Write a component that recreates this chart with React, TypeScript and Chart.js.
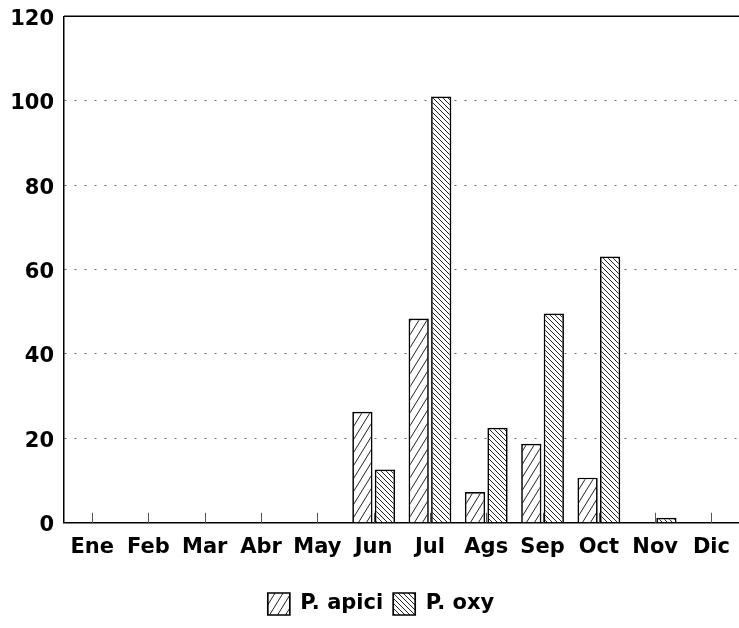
import React, { useEffect, useRef } from 'react';
import { Chart, registerables } from 'chart.js';

Chart.register(...registerables);

const months = ['Ene', 'Feb', 'Mar', 'Abr', 'May', 'Jun', 'Jul', 'Ags', 'Sep', 'Oct', 'Nov', 'Dic'];
const apiciValues = [null, null, null, null, null, 26.3, 48.4, 7.3, 18.7, 10.7, null, null];
const oxyValues = [null, null, null, null, null, 12.6, 101, 22.5, 49.6, 63.1, 1.2, null];
const seriesNames = ['P. apici', 'P. oxy'];
const yMin = 0;
const yMax = 120;
const yStep = 20;

function makeHatch(w: number, h: number, forward: boolean): CanvasPattern | string {
  const c = document.createElement('canvas');
  c.width = w;
  c.height = h;
  const ctx = c.getContext('2d');
  if (!ctx) return '#fff';
  ctx.fillStyle = '#fff';
  ctx.fillRect(0, 0, w, h);
  ctx.strokeStyle = '#222';
  ctx.lineWidth = 1;
  ctx.beginPath();
  if (forward) {
    ctx.moveTo(0, h);
    ctx.lineTo(w, 0);
    ctx.moveTo(-w, h);
    ctx.lineTo(0, 0);
    ctx.moveTo(w, h);
    ctx.lineTo(2 * w, 0);
  } else {
    ctx.moveTo(0, 0);
    ctx.lineTo(w, h);
    ctx.moveTo(-w, 0);
    ctx.lineTo(0, h);
    ctx.moveTo(w, 0);
    ctx.lineTo(2 * w, h);
  }
  ctx.stroke();
  return ctx.createPattern(c, 'repeat') as CanvasPattern;
}

const font = { family: '"DejaVu Sans", sans-serif', size: 21, weight: 'bold' as const };
const yFont = { family: '"DejaVu Sans", sans-serif', size: 21, weight: 'bold' as const, lineHeight: 0.6 };

const framePlugin = {
  id: 'frame',
  beforeDraw(chart: any) {
    const lg = chart.legend;
    if (lg) {
      lg.left += 10;
      lg.right += 10;
    }
  },
  beforeDatasetsDraw(chart: any) {
    const { ctx, chartArea, scales } = chart;
    const x = scales.x;
    ctx.save();
    ctx.strokeStyle = '#555';
    ctx.lineWidth = 1;
    ctx.beginPath();
    for (let i = 0; i < months.length; i++) {
      const px = Math.round(x.getPixelForValue(i)) + 0.5;
      ctx.moveTo(px, chartArea.bottom);
      ctx.lineTo(px, chartArea.bottom - 10);
    }
    ctx.stroke();
    ctx.restore();
  },
  afterDraw(chart: any) {
    const { ctx, chartArea } = chart;
    ctx.save();
    ctx.strokeStyle = '#000';
    ctx.lineWidth = 1.5;
    ctx.beginPath();
    ctx.moveTo(chartArea.left, chartArea.top);
    ctx.lineTo(chartArea.right + 5, chartArea.top);
    ctx.stroke();
    ctx.restore();
  },
};

export default function App() {
  const ref = useRef<HTMLCanvasElement | null>(null);

  useEffect(() => {
    if (!ref.current) return;
    const apiciFill = makeHatch(8, 13, true);
    const oxyFill = makeHatch(5, 5, false);
    const chart = new Chart(ref.current, {
      type: 'bar',
      data: {
        labels: months,
        datasets: [
          {
            label: seriesNames[0],
            data: apiciValues,
            backgroundColor: apiciFill as any,
            borderColor: '#000',
            borderWidth: 1.7,
          },
          {
            label: seriesNames[1],
            data: oxyValues,
            backgroundColor: oxyFill as any,
            borderColor: '#000',
            borderWidth: 1.7,
          },
        ],
      },
      options: {
        responsive: false,
        animation: false,
        devicePixelRatio: 1,
        layout: { padding: { top: 16, left: 0, right: 0, bottom: 3 } },
        plugins: {
          tooltip: { enabled: false },
          legend: {
            position: 'bottom',
            labels: {
              color: '#000',
              font,
              boxWidth: 22,
              boxHeight: 22,
              padding: 10,
            },
          },
        },
        scales: {
          x: {
            grid: { display: false, drawTicks: false },
            border: { display: true, color: '#000', width: 1.5 },
            ticks: { color: '#000', font, padding: 12, maxRotation: 0, autoSkip: false },
            afterFit(scale: any) {
              scale.height += 11;
            },
          },
          y: {
            min: yMin,
            max: yMax,
            ticks: { stepSize: yStep, color: '#000', font: yFont, padding: 10, labelOffset: 3 },
            grid: {
              drawTicks: false,
              color: '#666',
              lineWidth: 1,
            },
            border: { display: true, color: '#000', width: 1.5, dash: [2, 8] },
            afterFit(scale: any) {
              scale.width = 64;
            },
          },
        },
      },
      plugins: [framePlugin],
    });
    return () => chart.destroy();
  }, []);

  return (
    <div style={{ position: 'absolute', left: 0, top: 0, width: 739, height: 628, overflow: 'hidden', background: '#fff' }}>
      <canvas ref={ref} width={742} height={628} style={{ display: 'block' }} />
    </div>
  );
}
